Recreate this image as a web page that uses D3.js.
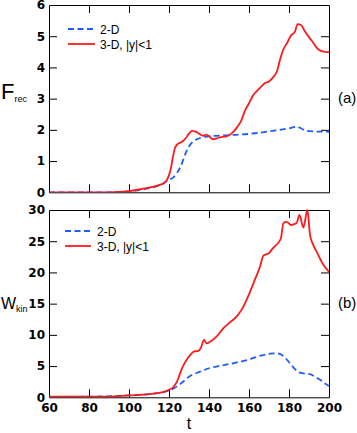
<!DOCTYPE html>
<html><head><meta charset="utf-8">
<script src="https://cdn.jsdelivr.net/npm/d3@7"></script>
<style>
body{margin:0;background:#fff;}
svg{display:block;}
.tick text{font-family:"DejaVu Sans",sans-serif;font-weight:bold;font-size:12px;fill:#000;}
.lbl{font-family:"Liberation Sans",Arial,sans-serif;fill:#000;}
</style></head>
<body><svg id="c" width="357" height="433"></svg>
<script>
// Panel (a): F_rec
const tA2D = [60,90,100,110,115,118,120,122,124,126,128,130,132,134,136,140,150,160,170,180,184,186,188,192,200];
const frec2D = [0,0,0.03,0.13,0.22,0.32,0.4,0.47,0.62,0.85,1.2,1.47,1.62,1.7,1.75,1.79,1.83,1.87,1.95,2.05,2.1,2.05,1.98,1.95,1.94];
const tA3D = [60,90,95,100,105,110,115,118,119,120,121,122,123,124,126,128,130,131.5,133,135,137,138.5,140,142,144,146,148,150,152,154,156,158,160,162,164,166,168,170,172,174,175.5,177,179,181,183,184.3,186,188,190,192,194,196,198,200];
const frec3D = [0,0,0.01,0.04,0.09,0.15,0.23,0.32,0.4,0.55,0.78,1.15,1.42,1.53,1.6,1.7,1.88,1.97,1.95,1.88,1.81,1.85,1.8,1.70,1.73,1.77,1.78,1.83,1.93,2.08,2.28,2.62,2.85,3.1,3.25,3.38,3.5,3.55,3.68,3.88,4.25,4.55,4.78,5.02,5.15,5.39,5.36,5.15,4.97,4.8,4.62,4.53,4.5,4.49];
// Panel (b): W_kin
const tB2D = [60,88,100,110,115,120,122,124,127,130.5,135.5,140.5,145.5,150.5,155.5,160.5,165,170,172.5,175,177.5,180.5,183,185,188,190.5,193,195.5,198,200];
const wkin2D = [0.05,0.15,0.3,0.5,0.7,1.1,1.35,1.75,2.5,3.4,4.1,4.7,5.05,5.35,5.7,6.1,6.6,6.95,7.05,7.0,6.5,5.45,4.5,4.0,3.8,3.7,3.3,2.8,2.2,1.8];
const tB3D = [60,90,100,110,115,118,120,122,124,125.5,127,129,131,132.5,134.5,136,137.5,138.8,140.5,144,147,150.5,154,157,160,163,165.5,167.2,170,172,175,176,177.2,178.8,181,183.8,185.2,187.2,189.2,190.5,192,194,197,200];
const wkin3D = [0.1,0.1,0.3,0.5,0.7,0.9,1.2,1.6,2.5,3.8,5.0,6.1,6.9,7.35,7.4,8.0,9.2,8.65,8.9,9.8,11.0,12.0,13.0,14.4,16.5,18.9,20.9,22.7,23.1,23.9,24.9,25.5,27.9,28.1,27.6,27.9,29.2,27.2,30,26.0,24.5,23.2,21.3,20.1];
// Ticks / labels
const xTicks = [60,80,100,120,140,160,180,200];
const yTicksA = [0,1,2,3,4,5,6];
const yTicksB = [0,5,10,15,20,25,30];
const legendLabels = ["2-D","3-D, |y|<1"];

const RED = "#ff1a1a", BLUE = "#1f5cff";
const svg = d3.select("#c");
const L = 49, R = 329;
const x = d3.scaleLinear().domain([60,200]).range([L,R]);

function panel(id, yDom, yRange, yTicks, tB, vB, tR, vR, showX, lg, tag, tagY, ylab, ysub, ylabPos){
  const y = d3.scaleLinear().domain(yDom).range(yRange);
  const g = svg.append("g");
  const clip = "clip"+id;
  svg.append("clipPath").attr("id",clip).append("rect")
    .attr("x",L).attr("y",yRange[1]-1).attr("width",R-L).attr("height",yRange[0]-yRange[1]+1);
  const inner = xTicks.slice(1,-1);
  // bottom
  g.append("g").attr("transform",`translate(0,${yRange[0]})`)
    .call(d3.axisBottom(x).tickValues(showX?xTicks:inner).tickSizeInner(-8).tickSizeOuter(0).tickPadding(6)
      .tickFormat(showX?d3.format("d"):""))
    .call(s=>{ s.selectAll(".tick line").filter(d=>d===60||d===200).remove(); });
  // top
  g.append("g").attr("transform",`translate(0,${yRange[1]})`)
    .call(d3.axisTop(x).tickValues(inner).tickSizeInner(-8).tickSizeOuter(0).tickFormat(""));
  // left
  g.append("g").attr("transform",`translate(${L},0)`)
    .call(d3.axisLeft(y).tickValues(yTicks).tickSizeInner(-8).tickSizeOuter(0).tickPadding(4).tickFormat(d3.format("d")))
    .call(s=>{ s.selectAll(".tick line").filter(d=>d===yDom[0]||d===yDom[1]).remove(); });
  // right
  g.append("g").attr("transform",`translate(${R},0)`)
    .call(d3.axisRight(y).tickValues(yTicks.slice(1,-1)).tickSizeInner(-8).tickSizeOuter(0).tickFormat(""));
  g.selectAll(".domain").attr("stroke","#000").attr("stroke-width",1);
  g.selectAll(".tick line").attr("stroke","#000");

  const line = d3.line().x(d=>x(d[0])).y(d=>y(d[1])).curve(d3.curveMonotoneX);
  const cg = svg.append("g").attr("clip-path",`url(#${clip})`);
  cg.append("path").datum(d3.zip(tB,vB)).attr("d",line).attr("fill","none")
    .attr("stroke",BLUE).attr("stroke-width",1.8).attr("stroke-dasharray","6,3.5");
  cg.append("path").datum(d3.zip(tR,vR)).attr("d",line).attr("fill","none")
    .attr("stroke",RED).attr("stroke-width",1.8);

  // legend
  const lgG = svg.append("g");
  legendLabels.forEach((lab,i)=>{
    const yy = lg.y + i*15;
    lgG.append("line").attr("x1",lg.x1).attr("x2",lg.x2).attr("y1",yy).attr("y2",yy)
      .attr("stroke",i===0?BLUE:RED).attr("stroke-width",1.8)
      .attr("stroke-dasharray",i===0?"6,3.5":null);
    lgG.append("text").attr("class","lbl").attr("x",lg.tx).attr("y",yy+4.5)
      .attr("font-size","12px").text(lab);
  });
  // tag
  svg.append("text").attr("class","lbl").attr("x",338).attr("y",tagY).attr("font-size","15px").text(tag);
  // y label
  const yl = svg.append("text").attr("class","lbl").attr("x",ylabPos.x).attr("y",ylabPos.y);
  yl.append("tspan").attr("font-size",ylabPos.fs+"px").text(ylab);
  yl.append("tspan").attr("font-size","9px").attr("dy",3).text(ysub);
}

panel("a",[0,6],[192.3,5],yTicksA,tA2D,frec2D,tA3D,frec3D,false,
  {x1:68,x2:95,tx:100,y:29},"(a)",103,"F","rec",{x:1,y:99,fs:22});
panel("b",[0,30],[397.3,210],yTicksB,tB2D,wkin2D,tB3D,wkin3D,true,
  {x1:65,x2:91,tx:97,y:231},"(b)",308,"W","kin",{x:1,y:309,fs:16});

svg.append("text").attr("class","lbl").attr("x",x(130)).attr("y",429).attr("text-anchor","middle")
  .attr("font-size","16px").text("t");
</script></body></html>
